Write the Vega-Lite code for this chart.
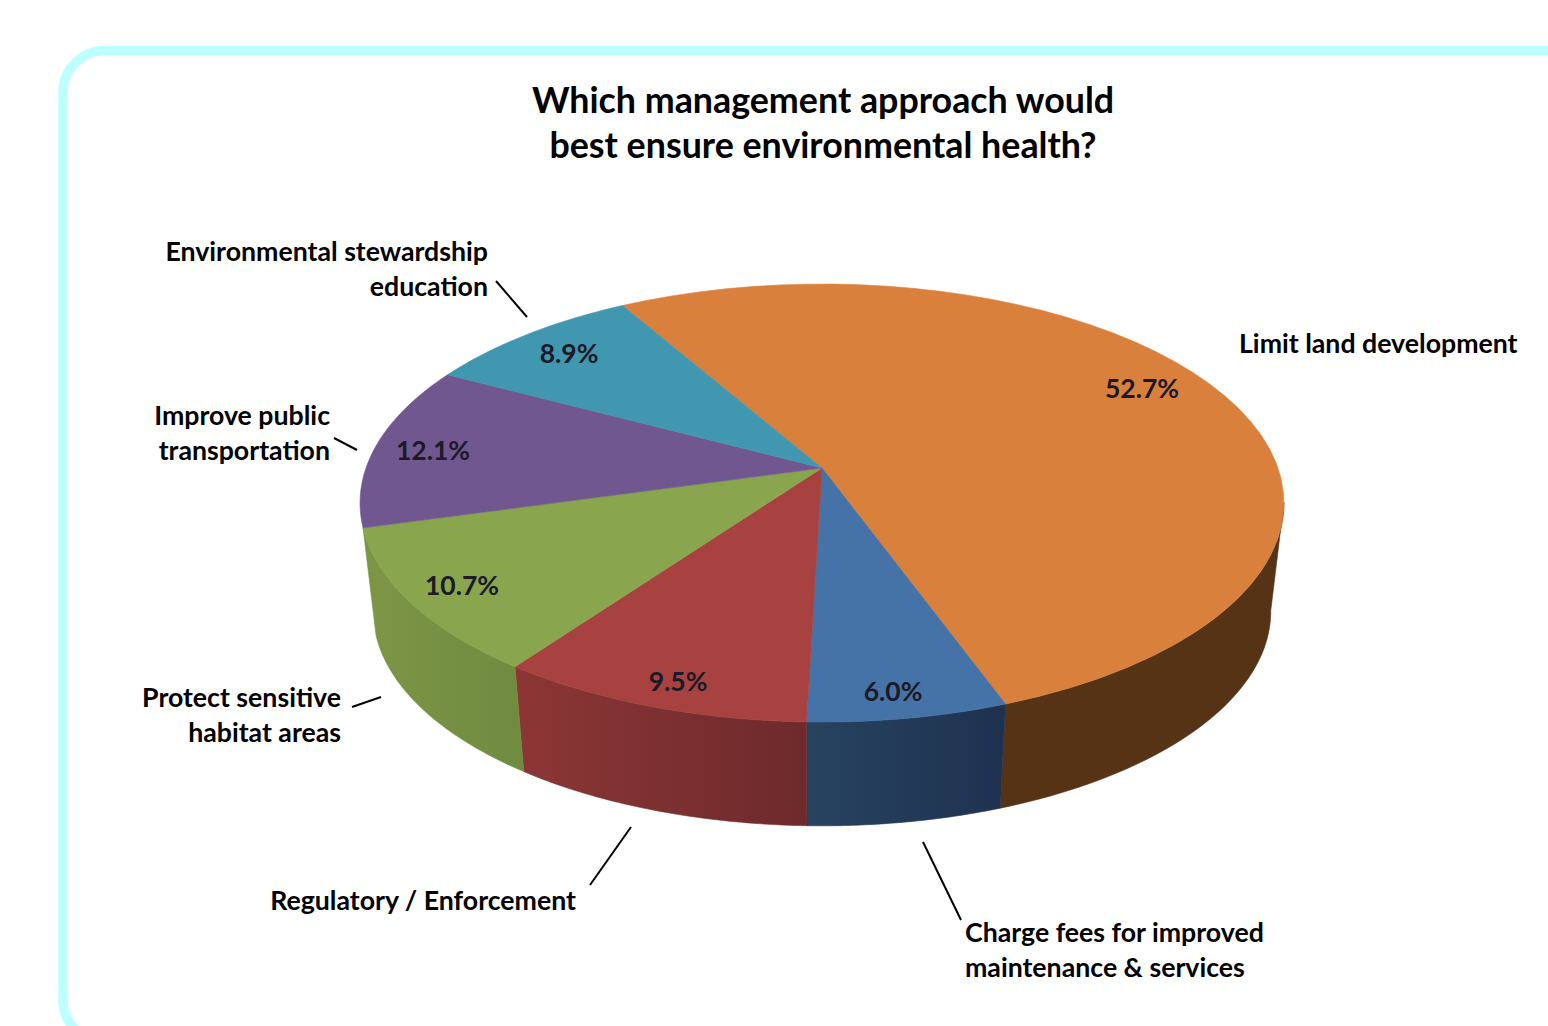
{
  "$schema": "https://vega.github.io/schema/vega-lite/v6.json",
  "width": 1548,
  "height": 1026,
  "padding": 0,
  "autosize": {"type": "none"},
  "background": "white",
  "view": {"stroke": null},
  "title": {
    "text": ["Which management approach would", "best ensure environmental health?"],
    "font": "Lato", "fontWeight": "bold", "fontSize": 35.8, "lineHeight": 45, "color": "#000000",
    "anchor": "middle", "baseline": "alphabetic", "frame": "group", "offset": 0, "dx": 49, "dy": 194
  },
  "params": [
    {"name": "startDeg", "value": -29.9},
    {"name": "tilt", "value": 0.16},
    {"name": "cx", "value": 822},
    {"name": "topApexY", "value": 468},
    {"name": "topA", "value": 456},
    {"name": "topB", "value": 213.4},
    {"name": "baseApexY", "value": 577},
    {"name": "baseA", "value": 443},
    {"name": "baseB", "value": 209},
    {"name": "wallFrom", "value": 99},
    {"name": "wallTo", "value": 261}
  ],
  "layer": [
    {
      "data": {"values": [{"left": 63, "right": 1640, "top": 50.5, "bottom": 1042}]},
      "mark": {"type": "rect", "fill": "white", "stroke": "#bdffff", "strokeWidth": 9.5, "cornerRadius": 42, "clip": true},
      "encoding": {
        "x": {"field": "left", "type": "quantitative", "scale": {"domain": [0, 1548], "nice": false, "zero": false}, "axis": null},
        "x2": {"field": "right"},
        "y": {"field": "top", "type": "quantitative", "scale": {"domain": [1026, 0], "nice": false, "zero": false}, "axis": null},
        "y2": {"field": "bottom"}
      }
    },
    {
      "data": {"values": [
        {"slice": "Limit land development", "rank": 1, "share": 0.527, "labelX": 1142, "labelY": 390},
        {"slice": "Charge fees for improved maintenance & services", "rank": 2, "share": 0.06, "labelX": 893, "labelY": 693},
        {"slice": "Regulatory / Enforcement", "rank": 3, "share": 0.095, "labelX": 678, "labelY": 683},
        {"slice": "Protect sensitive habitat areas", "rank": 4, "share": 0.107, "labelX": 462, "labelY": 587},
        {"slice": "Improve public transportation", "rank": 5, "share": 0.121, "labelX": 433, "labelY": 452},
        {"slice": "Environmental stewardship education", "rank": 6, "share": 0.089, "labelX": 569, "labelY": 355}
      ]},
      "transform": [
        {"joinaggregate": [{"op": "sum", "field": "share", "as": "total"}]},
        {"window": [{"op": "sum", "field": "share", "as": "running"}], "sort": [{"field": "rank"}]},
        {"calculate": "startDeg + 360 * datum.running / datum.total", "as": "a1"},
        {"calculate": "datum.a1 - 360 * datum.share / datum.total", "as": "a0"},
        {"calculate": "max(datum.a0, wallFrom)", "as": "lo"},
        {"calculate": "min(datum.a1, wallTo)", "as": "hi"},
        {"calculate": "sequence(-1, 98)", "as": "step"},
        {"flatten": ["step"]},
        {"calculate": "datum.step < 0 ? 0 : 1", "as": "r"},
        {"calculate": "(datum.a0 + (datum.a1 - datum.a0) * datum.step / 48) * PI / 180", "as": "t"},
        {"calculate": "cx + topA * datum.r * sin(datum.t) / (1 + tilt * datum.r * cos(datum.t))", "as": "topX"},
        {"calculate": "topApexY - topB * datum.r * cos(datum.t) / (1 + tilt * datum.r * cos(datum.t))", "as": "topY"},
        {"calculate": "(datum.step <= 48 ? datum.lo + (datum.hi - datum.lo) * datum.step / 48 : datum.hi - (datum.hi - datum.lo) * (datum.step - 49) / 48) * PI / 180", "as": "w"},
        {"calculate": "datum.step <= 48 ? cx + topA * sin(datum.w) / (1 + tilt * cos(datum.w)) : cx + baseA * sin(datum.w) / (1 + tilt * cos(datum.w))", "as": "wallX"},
        {"calculate": "datum.step <= 48 ? topApexY - topB * cos(datum.w) / (1 + tilt * cos(datum.w)) : baseApexY - baseB * cos(datum.w) / (1 + tilt * cos(datum.w))", "as": "wallY"}
      ],
      "layer": [
        {
          "transform": [{"filter": "datum.rank == 1 && datum.step >= 0"}],
          "mark": {"type": "line", "interpolate": "linear-closed", "fill": "#573316", "stroke": "#573316", "strokeWidth": 0.6},
          "encoding": {
            "x": {"field": "wallX", "type": "quantitative", "axis": null},
            "y": {"field": "wallY", "type": "quantitative", "axis": null},
            "order": {"field": "step"}
          }
        },
        {
          "transform": [{"filter": "datum.rank == 2 && datum.step >= 0"}],
          "mark": {"type": "line", "interpolate": "linear-closed", "stroke": "#213650", "strokeWidth": 0.6,
            "fill": {"gradient": "linear", "x1": 0, "y1": 0, "x2": 1, "y2": 0, "stops": [{"offset": 0, "color": "#27435f"}, {"offset": 1, "color": "#1e3250"}]}},
          "encoding": {
            "x": {"field": "wallX", "type": "quantitative", "axis": null},
            "y": {"field": "wallY", "type": "quantitative", "axis": null},
            "order": {"field": "step"}
          }
        },
        {
          "transform": [{"filter": "datum.rank == 3 && datum.step >= 0"}],
          "mark": {"type": "line", "interpolate": "linear-closed", "stroke": "#7a2e2f", "strokeWidth": 0.6,
            "fill": {"gradient": "linear", "x1": 0, "y1": 0, "x2": 1, "y2": 0, "stops": [{"offset": 0, "color": "#8c3635"}, {"offset": 1, "color": "#6e2a2c"}]}},
          "encoding": {
            "x": {"field": "wallX", "type": "quantitative", "axis": null},
            "y": {"field": "wallY", "type": "quantitative", "axis": null},
            "order": {"field": "step"}
          }
        },
        {
          "transform": [{"filter": "datum.rank == 4 && datum.step >= 0"}],
          "mark": {"type": "line", "interpolate": "linear-closed", "stroke": "#769042", "strokeWidth": 0.6,
            "fill": {"gradient": "linear", "x1": 0, "y1": 0, "x2": 1, "y2": 0, "stops": [{"offset": 0, "color": "#7d9646"}, {"offset": 1, "color": "#708a40"}]}},
          "encoding": {
            "x": {"field": "wallX", "type": "quantitative", "axis": null},
            "y": {"field": "wallY", "type": "quantitative", "axis": null},
            "order": {"field": "step"}
          }
        },
        {
          "transform": [{"filter": "datum.step <= 48"}],
          "mark": {"type": "line", "interpolate": "linear-closed", "strokeWidth": 0.6},
          "encoding": {
            "x": {"field": "topX", "type": "quantitative", "axis": null},
            "y": {"field": "topY", "type": "quantitative", "axis": null},
            "order": {"field": "step"},
            "fill": {"field": "slice", "type": "nominal", "legend": null, "scale": {
              "domain": ["Limit land development", "Charge fees for improved maintenance & services", "Regulatory / Enforcement", "Protect sensitive habitat areas", "Improve public transportation", "Environmental stewardship education"],
              "range": ["#d9813c", "#4573a8", "#a84241", "#89a54e", "#71578f", "#4197af"]
            }},
            "stroke": {"field": "slice", "type": "nominal", "legend": null, "scale": {
              "domain": ["Limit land development", "Charge fees for improved maintenance & services", "Regulatory / Enforcement", "Protect sensitive habitat areas", "Improve public transportation", "Environmental stewardship education"],
              "range": ["#d9813c", "#4573a8", "#a84241", "#89a54e", "#71578f", "#4197af"]
            }}
          }
        },
        {
          "transform": [{"filter": "datum.step == 0"}],
          "mark": {"type": "text", "font": "Lato", "fontWeight": "bold", "fontSize": 26.5, "color": "#1b1a26", "align": "center", "baseline": "middle"},
          "encoding": {
            "x": {"field": "labelX", "type": "quantitative", "axis": null},
            "y": {"field": "labelY", "type": "quantitative", "axis": null},
            "text": {"field": "share", "type": "quantitative", "format": ".1%"}
          }
        }
      ]
    },
    {
      "data": {"values": [
        {"fromX": 496, "fromY": 281, "toX": 527, "toY": 317},
        {"fromX": 334, "fromY": 438, "toX": 357, "toY": 450},
        {"fromX": 352, "fromY": 707, "toX": 381, "toY": 697},
        {"fromX": 590, "fromY": 885, "toX": 631, "toY": 827},
        {"fromX": 923, "fromY": 842, "toX": 961, "toY": 920}
      ]},
      "mark": {"type": "rule", "color": "#000000", "strokeWidth": 2},
      "encoding": {
        "x": {"field": "fromX", "type": "quantitative", "axis": null},
        "y": {"field": "fromY", "type": "quantitative", "axis": null},
        "x2": {"field": "toX"},
        "y2": {"field": "toY"}
      }
    },
    {
      "data": {"values": [
        {"name": "Environmental stewardship\neducation", "anchorX": 488, "anchorY": 253},
        {"name": "Improve public\ntransportation", "anchorX": 330, "anchorY": 417},
        {"name": "Protect sensitive\nhabitat areas", "anchorX": 341, "anchorY": 699},
        {"name": "Regulatory / Enforcement", "anchorX": 576, "anchorY": 902}
      ]},
      "mark": {"type": "text", "font": "Lato", "fontWeight": "bold", "fontSize": 26.7, "lineHeight": 34.5, "lineBreak": "\n", "color": "#000000", "align": "right", "baseline": "middle"},
      "encoding": {
        "x": {"field": "anchorX", "type": "quantitative", "axis": null},
        "y": {"field": "anchorY", "type": "quantitative", "axis": null},
        "text": {"field": "name"}
      }
    },
    {
      "data": {"values": [
        {"name": "Limit land development", "anchorX": 1239, "anchorY": 345},
        {"name": "Charge fees for improved\nmaintenance & services", "anchorX": 965, "anchorY": 934}
      ]},
      "mark": {"type": "text", "font": "Lato", "fontWeight": "bold", "fontSize": 26.7, "lineHeight": 34.5, "lineBreak": "\n", "color": "#000000", "align": "left", "baseline": "middle"},
      "encoding": {
        "x": {"field": "anchorX", "type": "quantitative", "axis": null},
        "y": {"field": "anchorY", "type": "quantitative", "axis": null},
        "text": {"field": "name"}
      }
    }
  ],
  "resolve": {"scale": {"fill": "independent", "stroke": "independent"}}
}
